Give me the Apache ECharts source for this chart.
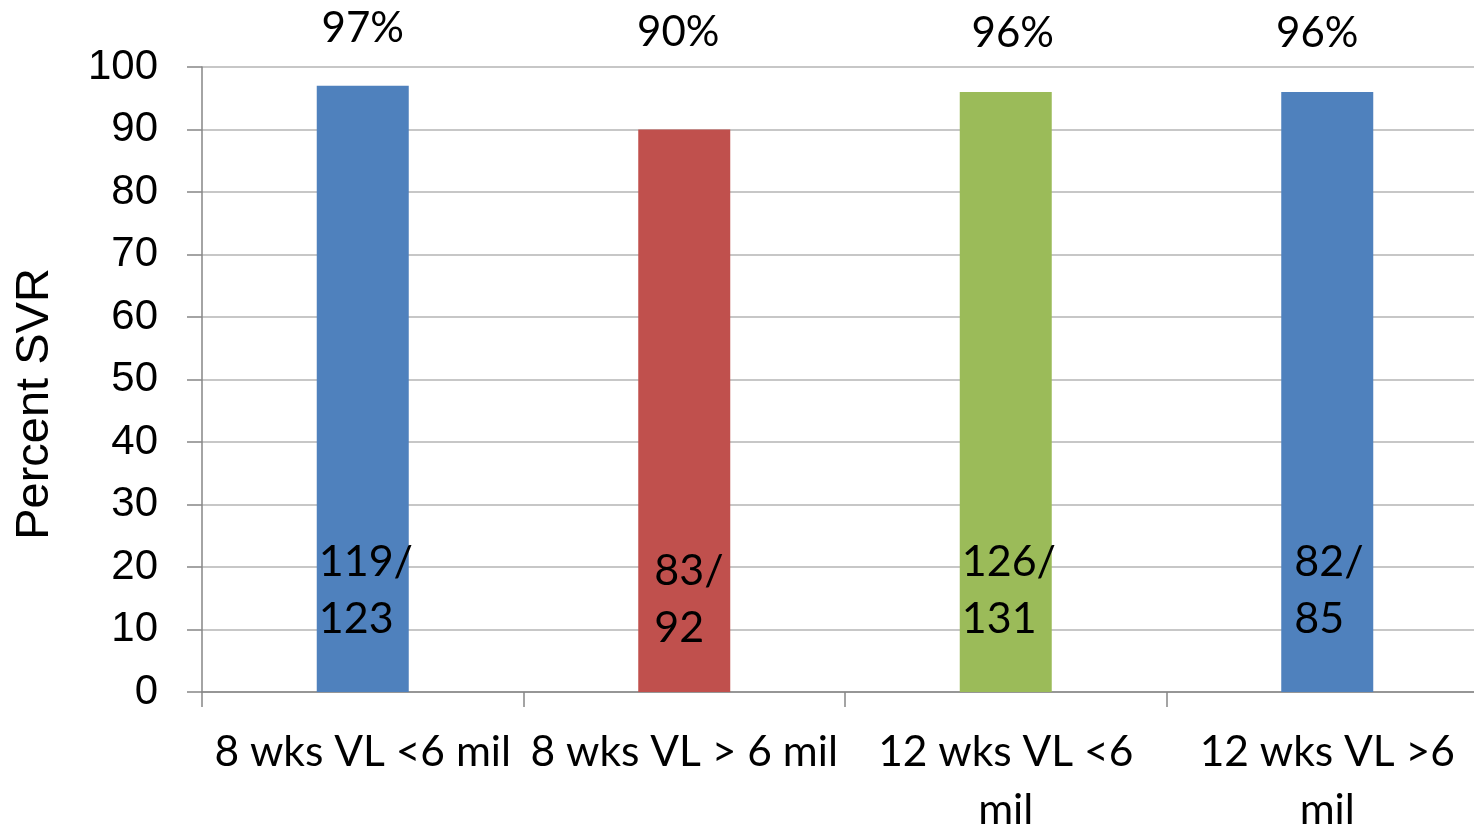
<!DOCTYPE html>
<html>
<head>
<meta charset="utf-8">
<script src="https://cdn.jsdelivr.net/npm/echarts@6/dist/echarts.min.js"></script>
<style>html,body{margin:0;padding:0;background:#fff;}#c{width:1474px;height:830px;}</style>
</head>
<body>
<div id="c"></div>
<script>
const categories = ['8 wks VL <6 mil', '8 wks VL > 6 mil', '12 wks VL <6\nmil', '12 wks VL >6\nmil'];
const svrPercent = [97, 90, 96, 96];
const responders = [119, 83, 126, 82];
const totals = [123, 92, 131, 85];
const barColors = ['#4F81BD', '#C0504D', '#9BBB59', '#4F81BD'];
const yTicks = { min: 0, max: 100, interval: 10 };

const FONT = 'Lato';
// label placement tweaks (style only)
const pctOffsets = [[0, -35], [-6, -75], [7, -37], [-10, -37]];
const cntOffsets = [[-3, -39], [11, -30], [-3, -39], [8, -39]];

const chart = echarts.init(document.getElementById('c'));
chart.setOption({
  animation: false,
  backgroundColor: '#ffffff',
  grid: { left: 202, top: 67, bottom: 138, right: -14, outerBoundsMode: 'none', containLabel: false },
  xAxis: {
    type: 'category',
    data: categories,
    axisLine: { lineStyle: { color: '#868686', width: 1.5 } },
    axisTick: { show: true, length: 15, interval: 0, lineStyle: { color: '#868686', width: 1.5 } },
    axisLabel: { interval: 0, color: '#000', fontFamily: FONT, fontSize: 42.5, lineHeight: 58, margin: 31 }
  },
  yAxis: {
    type: 'value',
    min: yTicks.min, max: yTicks.max, interval: yTicks.interval,
    name: 'Percent SVR',
    nameLocation: 'middle',
    nameGap: 143,
    nameRotate: 90,
    nameTextStyle: { color: '#000', fontFamily: 'Liberation Sans', fontSize: 47, padding: [0, 49, 0, 0] },
    axisLine: { show: true, lineStyle: { color: '#868686', width: 1.5 } },
    axisTick: { show: true, length: 15, lineStyle: { color: '#868686', width: 1.5 } },
    axisLabel: { color: '#000', fontFamily: 'Liberation Sans', fontSize: 42, margin: 44 },
    splitLine: { lineStyle: { color: '#b4b4b4', width: 1.5 } }
  },
  series: [
    {
      type: 'bar',
      barWidth: 92,
      data: svrPercent.map((v, i) => ({
        value: v,
        itemStyle: { color: barColors[i] },
        label: { offset: pctOffsets[i] }
      })),
      label: {
        show: true, position: 'top', distance: 0,
        formatter: p => p.value + '%',
        color: '#000', fontFamily: FONT, fontSize: 42, lineHeight: 44
      }
    },
    {
      type: 'bar',
      barWidth: 92,
      barGap: '-100%',
      silent: true,
      itemStyle: { color: 'rgba(0,0,0,0)' },
      data: svrPercent.map((v, i) => ({
        value: v,
        label: { offset: cntOffsets[i] }
      })),
      label: {
        show: true, position: 'insideBottomLeft', distance: 5, align: 'left',
        formatter: p => responders[p.dataIndex] + '/\n' + totals[p.dataIndex],
        color: '#000', fontFamily: FONT, fontSize: 43, lineHeight: 57
      }
    }
  ]
});
</script>
</body>
</html>
